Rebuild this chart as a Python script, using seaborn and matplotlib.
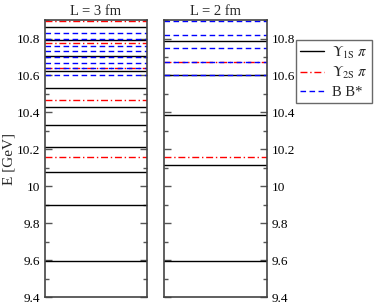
import numpy as np
import pandas as pd
import seaborn as sns
import matplotlib.pyplot as plt
from matplotlib.lines import Line2D
from matplotlib.ticker import MultipleLocator

# energy levels, GeV
l3_y1s = [9.597, 9.898, 10.079, 10.214, 10.332, 10.431, 10.533, 10.624, 10.707, 10.790, 10.864]
l3_y2s = [10.157, 10.467, 10.638, 10.774, 10.895]
l3_bb = [10.602, 10.638, 10.669, 10.700, 10.734, 10.759, 10.795, 10.828]

l2_y1s = [9.597, 10.115, 10.386, 10.602, 10.788]
l2_y2s = [10.157, 10.674]
l2_bb = [10.602, 10.674, 10.750, 10.819, 10.895]

panels = ['L = 3 fm', 'L = 2 fm']
states = ['Y1S', 'Y2S', 'BB']
labels = [r'$\Upsilon_{\mathrm{1S}}\ \pi$', r'$\Upsilon_{\mathrm{2S}}\ \pi$', 'B B*']
y_ticks = [9.4, 9.6, 9.8, 10, 10.2, 10.4, 10.6, 10.8]

rows = []
lid = 0
for p, levels in zip(panels, [[l3_y1s, l3_y2s, l3_bb], [l2_y1s, l2_y2s, l2_bb]]):
    for s, vals in zip(states, levels):
        for e in vals:
            for x in (0, 1):
                rows.append({'panel': p, 'state': s, 'lid': lid, 'x': x, 'E': e})
            lid += 1
df = pd.DataFrame(rows)

sns.set_style('ticks')
plt.rcParams['font.family'] = ['Liberation Serif', 'DejaVu Serif']
plt.rcParams['mathtext.fontset'] = 'stix'

pal = {'Y1S': 'black', 'Y2S': 'red', 'BB': 'blue'}
dsh = {'Y1S': '', 'Y2S': (5, 2, 1, 2), 'BB': (4, 2.5)}

fig = plt.figure(figsize=(3.74, 3.04), dpi=100)
ax1 = fig.add_axes([0.120, 0.023, 0.273, 0.911])
ax2 = fig.add_axes([0.4385, 0.023, 0.275, 0.911])

for ax, p in zip([ax1, ax2], panels):
    sub = df[df.panel == p]
    sns.lineplot(data=sub, x='x', y='E', hue='state', style='state', units='lid',
                 estimator=None, palette=pal, dashes=dsh, linewidth=1.0,
                 legend=False, ax=ax)
    ax.set_xlim(0, 1)
    ax.set_ylim(9.4, 10.9)
    ax.set_xticks([])
    ax.set_xlabel('')
    ax.set_ylabel('')
    ax.set_yticks(y_ticks)
    ax.set_yticklabels(['%g' % t for t in y_ticks])
    ax.yaxis.set_minor_locator(MultipleLocator(0.1))
    ax.tick_params(axis='y', which='both', direction='in', left=True, right=True,
                   labelsize=9.5, colors='#555555', labelcolor='black', width=1)
    ax.tick_params(axis='y', which='major', length=5)
    ax.tick_params(axis='y', which='minor', length=3)
    ax.set_title(p, fontsize=10.5, pad=4)
    for sp in ax.spines.values():
        sp.set_color('#444444')
        sp.set_linewidth(1.2)

ax1.set_ylabel('E [GeV]', fontsize=11, labelpad=1)
ax2.tick_params(axis='y', labelleft=False, labelright=True)

handles = [Line2D([], [], color='black', lw=1),
           Line2D([], [], color='red', lw=1, dashes=(5, 2, 1, 2)),
           Line2D([], [], color='blue', lw=1, dashes=(4, 2.5))]
leg = fig.legend(handles, labels, loc='upper left', bbox_to_anchor=(0.791, 0.868),
                 borderaxespad=0, fontsize=10.5, frameon=True, fancybox=False,
                 handlelength=1.6, borderpad=0.3, labelspacing=0.3, handletextpad=0.55)
leg.get_frame().set_edgecolor('#444444')
leg.get_frame().set_linewidth(1.0)

fig.savefig('out.png', dpi=100)
